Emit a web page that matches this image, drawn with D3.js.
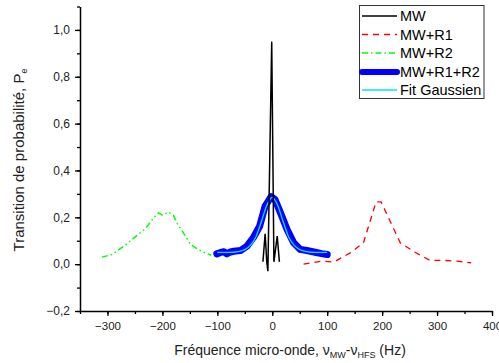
<!DOCTYPE html>
<html><head><meta charset="utf-8">
<script src="https://cdn.jsdelivr.net/npm/d3@7"></script>
<style>body{margin:0;background:#fff}svg{display:block;font-family:"Liberation Sans",Arial,sans-serif}</style>
</head><body><svg id="c" width="499" height="363"></svg>
<script>
const seriesMW = [[-17,0.01],[-13,0.13],[-10,0.01],[-8,-0.03],[-1,0.95],[3,0.01],[9,0.12],[13,0.01]];
const seriesR1 = [[57,0.0],[90,0.013],[112,0.009],[142,0.048],[166,0.091],[189,0.266],[198,0.266],[233,0.091],[260,0.051],[287,0.016],[311,0.016],[336,0.013],[362,0.006]];
const seriesR2 = [[-310,0.03],[-292,0.041],[-270,0.077],[-246,0.123],[-231,0.151],[-216,0.198],[-207,0.219],[-200,0.209],[-189,0.222],[-180,0.209],[-174,0.177],[-158,0.12],[-149,0.084],[-137,0.066],[-125,0.051],[-111,0.038]];
const seriesR1R2 = [[-101,0.044],[-94,0.05],[-88,0.053],[-83,0.044],[-76,0.052],[-70,0.055],[-58,0.058],[-46,0.077],[-34,0.115],[-23,0.162],[-13,0.248],[-2,0.288],[5,0.276],[15,0.219],[27,0.148],[39,0.091],[51,0.063],[63,0.058],[78,0.051],[90,0.045],[100,0.041]];
const seriesFit = [[-100,0.05],[-80,0.05],[-60,0.055],[-50,0.062],[-40,0.08],[-30,0.115],[-20,0.18],[-10,0.25],[0,0.285],[10,0.25],[20,0.18],[30,0.115],[40,0.08],[50,0.062],[60,0.055],[80,0.05],[100,0.05]];
const xTicks = [-300,-200,-100,0,100,200,300,400];
const yTicks = [-0.2,0,0.2,0.4,0.6,0.8,1.0];
const legendLabels = ["MW","MW+R1","MW+R2","MW+R1+R2","Fit Gaussien"];

const svg = d3.select("#c");
const L=80,R=492,T=6.5,B=311;
const x = d3.scaleLinear().domain([-350,400]).range([L,R]);
const y = d3.scaleLinear().domain([-0.2,1.1]).range([B,T]);
const fmt = d => d3.format(".1f")(d).replace(".",",");

// axes
const xMinor = d3.range(-350,401,50);
const yMinor = d3.range(-2,12).map(v=>v/10);
const gx = svg.append("g").attr("transform",`translate(0,${B})`);
gx.call(d3.axisBottom(x).tickValues(xMinor).tickSize(3).tickFormat(""));
gx.call(g=>g.selectAll(".domain").remove());
const gx2 = svg.append("g").attr("class","xa").attr("transform",`translate(0,${B})`)
  .call(d3.axisBottom(x).tickValues(xTicks).tickSize(5).tickPadding(6).tickSizeOuter(0));
const gy = svg.append("g").attr("transform",`translate(${L},0)`);
gy.call(d3.axisLeft(y).tickValues(yMinor).tickSize(3).tickFormat(""));
gy.call(g=>g.selectAll(".domain").remove());
const gy2 = svg.append("g").attr("class","ya").attr("transform",`translate(${L},0)`)
  .call(d3.axisLeft(y).tickValues(yTicks).tickSize(5).tickPadding(5).tickSizeOuter(0).tickFormat(fmt));
svg.selectAll(".tick line").attr("stroke","#000").attr("stroke-width",1.3);
svg.selectAll(".domain").attr("stroke","#000").attr("stroke-width",1.5);
svg.selectAll(".tick text").attr("fill","#222").attr("font-family","Liberation Sans, Arial, sans-serif");
svg.selectAll(".xa .tick text").attr("font-size",11.5);
svg.selectAll(".ya .tick text").attr("font-size",12);

const line = d3.line().x(d=>x(d[0])).y(d=>y(d[1]));
const plot = svg.append("g");
plot.append("path").datum(seriesR2).attr("d",line).attr("fill","none").attr("stroke","#00ff00").attr("stroke-width",1.5).attr("stroke-dasharray","6,3,1.5,3,1.5,3");
plot.append("path").datum(seriesR1).attr("d",line).attr("fill","none").attr("stroke","#ff0000").attr("stroke-width",1.3).attr("stroke-dasharray","6,5");
plot.append("path").datum(seriesR1R2).attr("d",line).attr("fill","none").attr("stroke","#0000ff").attr("stroke-width",7).attr("stroke-linejoin","round").attr("stroke-linecap","round");
plot.append("path").datum(seriesFit).attr("d",d3.line().x(d=>x(d[0])).y(d=>y(d[1])).curve(d3.curveMonotoneX)).attr("fill","none").attr("stroke","#00e5ff").attr("stroke-width",1.3);
plot.append("path").datum(seriesMW).attr("d",line).attr("fill","none").attr("stroke","#000").attr("stroke-width",1.5);

// legend
const lg = svg.append("g");
lg.append("rect").attr("x",359.5).attr("y",5.5).attr("width",124.5).attr("height",93).attr("fill","#fff").attr("stroke","#333").attr("stroke-width",1);
const styles = [
 {c:"#000",w:1.5,d:null},
 {c:"#ff0000",w:1.3,d:"6,5"},
 {c:"#00ff00",w:1.5,d:"6,3,1.5,3"},
 {c:"#0000ff",w:6,d:null},
 {c:"#00e5ff",w:1.3,d:null}];
const rowY = [16,34.5,53,72,90];
legendLabels.forEach((t,i)=>{
  const s=styles[i];
  const ln=lg.append("line").attr("x1",362).attr("x2",397).attr("y1",rowY[i]).attr("y2",rowY[i]).attr("stroke",s.c).attr("stroke-width",s.w).attr("stroke-linecap",i==3?"round":"butt");
  if(s.d) ln.attr("stroke-dasharray",s.d);
  lg.append("text").attr("x",400).attr("y",rowY[i]).attr("dy","0.36em").attr("font-size",14.5).attr("fill","#000").text(t);
});

// axis titles
const yt = svg.append("text").attr("transform","translate(24,160) rotate(-90)").attr("text-anchor","middle").attr("font-size",15).attr("fill","#222");
yt.append("tspan").text("Transition de probabilité, P");
yt.append("tspan").attr("font-size",9).attr("dy",3).text("e");
const xt = svg.append("text").attr("x",290).attr("y",355).attr("text-anchor","middle").attr("font-size",14).attr("fill","#222");
xt.append("tspan").text("Fréquence micro-onde, ν");
xt.append("tspan").attr("font-size",9).attr("dy",3).text("MW");
xt.append("tspan").attr("dy",-3).text("-ν");
xt.append("tspan").attr("font-size",9).attr("dy",3).text("HFS");
xt.append("tspan").attr("dy",-3).text(" (Hz)");
</script></body></html>
